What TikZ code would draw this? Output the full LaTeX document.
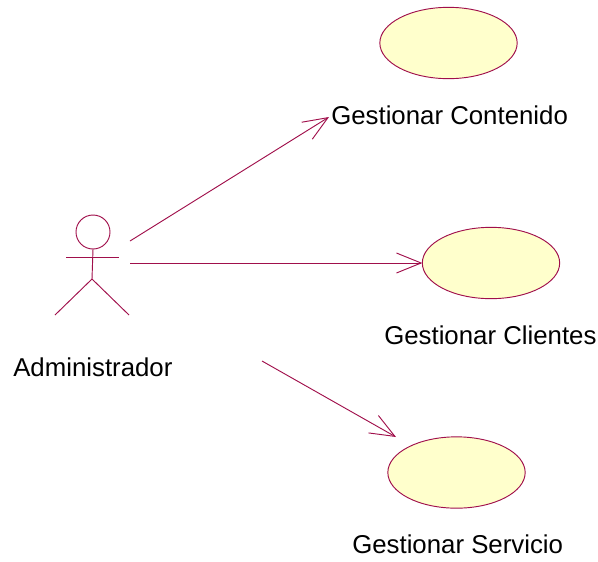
\documentclass[tikz,border=0pt]{standalone}
\usepackage{fontspec}
\setmainfont{Liberation Sans}
\usetikzlibrary{shapes.geometric,arrows.meta}
\definecolor{roseline}{HTML}{A00F4B}
\definecolor{rosefill}{HTML}{FFFFCC}
\tikzset{
  usecase/.style={ellipse,draw=roseline,fill=rosefill,line width=0.7pt,minimum width=103pt,minimum height=53.5pt,inner sep=0pt,outer sep=0pt},
  caption/.style={font=\fontsize{19.35pt}{23pt}\selectfont,text=black,inner sep=0pt,anchor=base west},
  actorline/.style={draw=roseline,line width=0.7pt},
  assoc/.style={draw=roseline,line width=0.7pt,-{Straight Barb[length=18.5pt,width=15pt,line width=0.7pt]},shorten >=0pt}
}
\begin{document}
\begin{tikzpicture}[x=0.75pt,y=-0.75pt]
\useasboundingbox (0,0) rectangle (598,561);
% use cases
\node[usecase] (uc1) at (448.5,43) {};
\node[usecase] (uc2) at (491,263) {};
\node[usecase] (uc3) at (456.5,472.5) {};
% captions
\node[caption] (t1) at (331,124) {Gestionar Contenido};
\node[caption] (t2) at (384,344) {Gestionar Clientes};
\node[caption] (t3) at (352,553) {Gestionar Servicio};
\node[caption] (t4) at (13,376) {Administrador};
% actor
\node[circle,actorline,minimum size=25.5pt,inner sep=0pt,outer sep=0pt] (head) at (93,232) {};
\coordinate (armL) at (66,257);
\coordinate (armR) at (119,257);
\coordinate (hip) at (92,279);
\coordinate (footL) at (55,315);
\coordinate (footR) at (129,315);
\draw[actorline] (head.south) -- (hip);
\draw[actorline] (armL) -- (armR);
\draw[actorline] (footL) -- (hip) -- (footR);
% associations
\coordinate (a1) at (130,241);
\coordinate (a2) at (130,263);
\coordinate (a3) at (262,361);
\coordinate (e1) at (329,117);
\coordinate (e3) at (396,437);
\draw[assoc] (a1) -- (e1);
\draw[assoc] (a2) -- (uc2.west);
\draw[assoc] (a3) -- (e3);
\end{tikzpicture}
\end{document}
